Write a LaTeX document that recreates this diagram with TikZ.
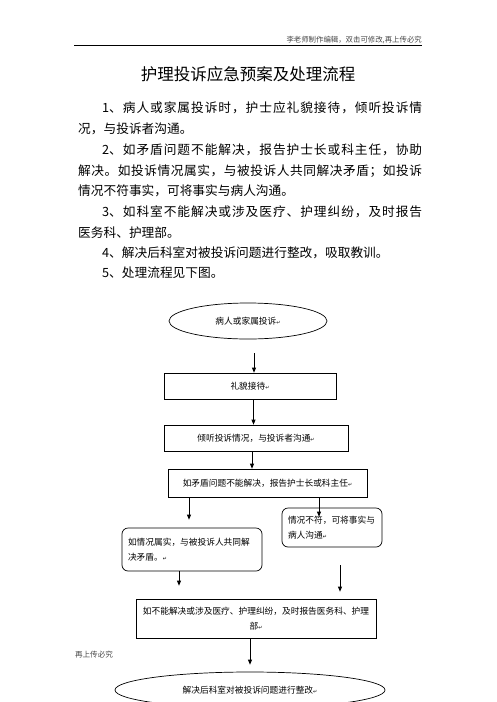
\documentclass[tikz,border=0pt]{standalone}
\usepackage{fontspec}
\setmainfont{Noto Sans CJK SC}
\newfontfamily\symfont{DejaVu Sans}
\usetikzlibrary{shapes.geometric,arrows.meta}
% inter-character glue between CJK characters (for justified lines)
\XeTeXinterchartokenstate=1
\newXeTeXintercharclass\cjkclass
\newcount\mycnt
\mycnt="4E00
\loop
  \XeTeXcharclass\mycnt=\cjkclass
  \advance\mycnt by 1
\ifnum\mycnt<"A000 \repeat
\XeTeXcharclass"3001=\cjkclass
\XeTeXcharclass"3002=\cjkclass
\XeTeXcharclass"FF0C=\cjkclass
\XeTeXcharclass"FF1B=\cjkclass
\XeTeXinterchartoks\cjkclass\cjkclass={\hskip0pt plus 2pt\relax}
\newcommand\retmark{{\symfont\fontsize{5}{5}\selectfont ↵}}
\definecolor{hdr}{RGB}{70,70,70}
\tikzset{
  body/.style={anchor=west, inner sep=0pt, font=\fontsize{12.7}{15}\selectfont},
  flowbox/.style={draw, line width=0.7pt, inner ysep=0pt, inner xsep=4pt,
    font=\fontsize{8.7}{14.5}\selectfont, align=center},
  roundbox/.style={flowbox, rounded corners=6pt, align=left, inner xsep=6pt},
  oval/.style={draw, ellipse, line width=0.7pt, inner sep=0pt,
    font=\fontsize{8.7}{14.5}\selectfont},
  arr/.style={draw, line width=0.7pt, -{Triangle[length=5pt,width=4pt]}},
}
\begin{document}
\begin{tikzpicture}[x=1pt,y=-1pt]
\useasboundingbox (0,0) rectangle (496,702);
\clip (0,0) rectangle (496,702);
% header
\node[anchor=east, inner sep=0pt, text=hdr, font=\fontsize{7.4}{8}\selectfont] (hdrtext) at (422,40) {李老师制作编辑，双击可修改,再上传必究};
\coordinate (hl1) at (74,45.5);
\coordinate (hl2) at (422,45.5);
\draw[line width=1.1pt] (hl1) -- (hl2);
% title
\node[inner sep=0pt, font=\fontsize{16.5}{18}\selectfont] (title) at (248,74) {护理投诉应急预案及处理流程};
% body text
\node[body] (t1) at (102,108) {\makebox[320pt][s]{1、病人或家属投诉时，护士应礼貌接待，倾听投诉情}};
\node[body] (t2) at (78,129) {况，与投诉者沟通。};
\node[body] (t3) at (102,150) {\makebox[320pt][s]{2、如矛盾问题不能解决，报告护士长或科主任，协助}};
\node[body] (t4) at (78,171) {\makebox[344pt][s]{解决。如投诉情况属实，与被投诉人共同解决矛盾；如投诉}};
\node[body] (t5) at (78,191) {情况不符事实，可将事实与病人沟通。};
\node[body] (t6) at (102,212) {\makebox[320pt][s]{3、如科室不能解决或涉及医疗、护理纠纷，及时报告}};
\node[body] (t7) at (78,233) {医务科、护理部。};
\node[body] (t8) at (102,253) {4、解决后科室对被投诉问题进行整改，吸取教训。};
\node[body] (t9) at (102,273) {5、处理流程见下图。};
% flowchart
\node[oval, minimum width=158pt, minimum height=36pt] (e1) at (248,321) {病人或家属投诉\retmark};
\node[flowbox, minimum width=172pt, minimum height=26pt] (b1) at (250,386) {礼貌接待\retmark};
\node[flowbox, minimum width=184pt, minimum height=26pt] (b2) at (256,438) {倾听投诉情况，与投诉者沟通\retmark};
\node[flowbox, minimum width=199pt, minimum height=28pt] (b3) at (267.5,483) {如矛盾问题不能解决，报告护士长或科主任\retmark};
\node[roundbox, text width=88pt, minimum height=39pt] (rb) at (332,527.5) {\mbox{情况不符，可将事实与}\\病人沟通\retmark};
\node[roundbox, text width=128pt, minimum height=43pt] (lb) at (192,549.5) {\mbox{如情况属实，与被投诉人共同解}\\决矛盾。\retmark};
\node[flowbox, text width=232pt, minimum height=39pt] (b4) at (256,618.5) {\mbox{如不能解决或涉及医疗、护理纠纷，及时报告医务科、护理}\\部\retmark};
\node[oval, minimum width=270pt, minimum height=36pt] (e2) at (250,690) {解决后科室对被投诉问题进行整改\retmark};
% connectors
\draw[arr] ([xshift=6pt,yshift=-14pt]e1.south) -- ([xshift=6pt]e1.south |- b1.north);
\draw[arr] ([xshift=3.5pt]b1.south) -- ([xshift=3.5pt]b1.south |- b2.north);
\draw[arr] ([xshift=-4pt]b2.south) -- ([xshift=-4pt]b2.south |- b3.north);
\draw[arr] ([xshift=-78.5pt]b3.south) -- ([xshift=-3pt,yshift=8pt]lb.north);
\draw[arr] ([xshift=51.5pt]b3.south) -- ([xshift=-13pt,yshift=-9pt]rb.north);
\draw[arr] ([xshift=-13pt]lb.south) -- ([xshift=-77pt,yshift=13pt]b4.north);
\draw[arr] ([xshift=8pt,yshift=-18pt]rb.south) -- ([xshift=84pt,yshift=7pt]b4.north);
\draw[arr] ([xshift=-6pt]b4.south) -- ([yshift=7pt]e2.north);
% footer
\node[inner sep=0pt, text=hdr, font=\fontsize{7.6}{8}\selectfont] (footer) at (94,655) {再上传必究};
\end{tikzpicture}
\end{document}
